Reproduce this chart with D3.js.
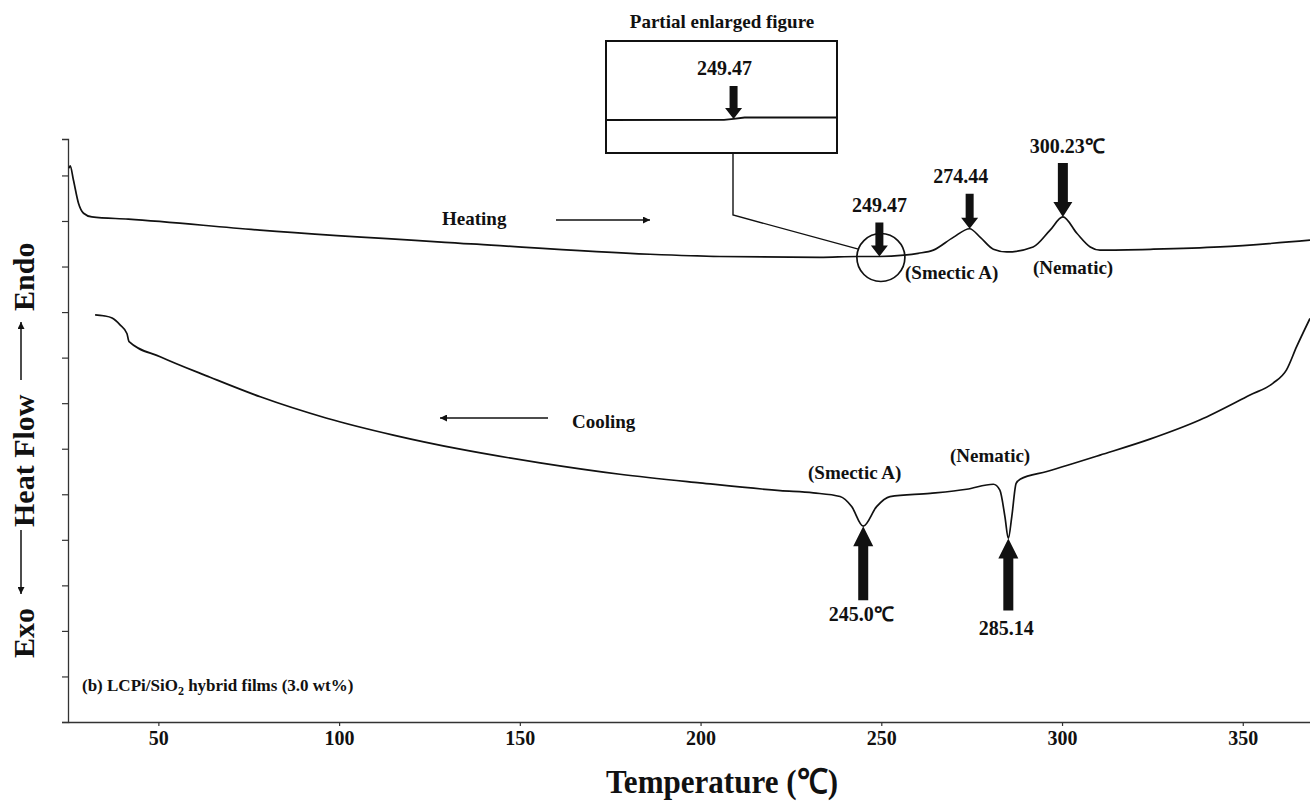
<!DOCTYPE html>
<html>
<head>
<meta charset="utf-8">
<script src="https://cdn.jsdelivr.net/npm/d3@7/dist/d3.min.js"></script>
<style>
  html, body { margin: 0; padding: 0; background: #fff; }
  svg { display: block; }
  text { font-family: "Liberation Serif", "Times New Roman", serif; font-weight: bold; fill: #111; }
</style>
</head>
<body>
<svg id="chart" width="1310" height="803"></svg>
<script>
// DSC traces of LCPi/SiO2 hybrid film (3.0 wt%), heat flow in arbitrary units
const heatingT = [25.3, 25.6, 26.5, 27.9, 29.3, 31.6, 41.7, 78.1, 138.1, 186.0, 205.3, 233.0, 243.2, 249.47, 256.3, 260.2, 264.4, 269.9, 274.44, 277.4, 281.0, 284.7, 292.0, 296.7, 300.23, 304.1, 307.8, 310.5, 325.3, 343.7, 368.6];
const heatingV = [12.16, 12.21, 11.90, 11.39, 11.17, 11.09, 11.04, 10.80, 10.49, 10.27, 10.22, 10.20, 10.22, 10.22, 10.25, 10.29, 10.36, 10.64, 10.83, 10.64, 10.38, 10.32, 10.43, 10.80, 11.09, 10.73, 10.43, 10.36, 10.38, 10.43, 10.58];

const coolingT = [32.5, 34.8, 37.2, 39.4, 41.3, 41.9, 50.5, 64.3, 78.2, 96.6, 115.0, 133.5, 155.6, 177.7, 199.8, 222.0, 231.2, 238.6, 241.8, 245.0, 248.7, 252.4, 263.5, 273.6, 281.0, 282.8, 284.2, 285.14, 286.1, 287.3, 288.4, 295.8, 310.5, 324.3, 338.1, 352.0, 358.4, 362.1, 364.9, 368.6];
const coolingV = [8.94, 8.92, 8.87, 8.72, 8.53, 8.35, 8.02, 7.57, 7.14, 6.67, 6.30, 5.99, 5.69, 5.44, 5.25, 5.08, 5.03, 4.95, 4.73, 4.30, 4.73, 4.95, 5.02, 5.11, 5.22, 5.09, 4.51, 4.03, 4.51, 5.24, 5.33, 5.50, 5.86, 6.21, 6.63, 7.18, 7.44, 7.73, 8.24, 8.86];

// enlarged detail around the 249.47 step (relative heat flow)
const insetT = [244.5, 249.1, 249.47, 249.9, 253.5];
const insetV = [0.00, 0.05, 0.45, 1.00, 1.00];

const xTicks = [50, 100, 150, 200, 250, 300, 350];
const yTicks = d3.range(0, 13);

const heatingPeaks = [
  { T: 249.47, label: "249.47" },
  { T: 274.44, label: "274.44" },
  { T: 300.23, label: "300.23℃" }
];
const coolingPeaks = [
  { T: 245.0, label: "245.0℃" },
  { T: 285.14, label: "285.14" }
];

const svg = d3.select("#chart");
const x = d3.scaleLinear().domain([25, 368.6]).range([68, 1310]);
const y = d3.scaleLinear().domain([0, 12.8]).range([722, 139]);
const ink = "#111";

// axes
const xAxis = svg.append("g").attr("transform", "translate(0,722)")
  .call(d3.axisBottom(x).tickValues(xTicks).tickSize(4).tickSizeOuter(0).tickFormat(d3.format("d")));
xAxis.select(".domain").attr("stroke", "#333").attr("stroke-width", 1.3);
xAxis.selectAll(".tick line").attr("stroke", "#333").attr("stroke-width", 1.2);
xAxis.selectAll(".tick text").attr("y", 23).attr("dy", 0)
  .style("font-size", "20px").style("font-family", "'Liberation Serif', serif").style("font-weight", "bold").attr("fill", ink);

const yAxis = svg.append("g").attr("transform", "translate(68,0)")
  .call(d3.axisLeft(y).tickValues(yTicks).tickSize(6).tickSizeOuter(6).tickFormat(""));
yAxis.select(".domain").attr("stroke", "#333").attr("stroke-width", 1.3);
yAxis.selectAll(".tick line").attr("stroke", "#333").attr("stroke-width", 1.2);

// traces
const line = d3.line().x(d => x(d[0])).y(d => y(d[1])).curve(d3.curveMonotoneX);
const heating = heatingT.map((t, i) => [t, heatingV[i]]);
const cooling = coolingT.map((t, i) => [t, coolingV[i]]);
svg.append("path").datum(heating).attr("d", line)
  .attr("fill", "none").attr("stroke", ink).attr("stroke-width", 1.7);
svg.append("path").datum(cooling).attr("d", line)
  .attr("fill", "none").attr("stroke", ink).attr("stroke-width", 1.7);

// block arrow: tip at (cx, tipY); dir = +1 points down, -1 points up
function blockArrow(cx, tipY, len, dir, shaftW, headW, headH) {
  const b = tipY - dir * len, h = tipY - dir * headH;
  const p = [
    [cx - shaftW / 2, b], [cx + shaftW / 2, b], [cx + shaftW / 2, h], [cx + headW / 2, h],
    [cx, tipY], [cx - headW / 2, h], [cx - shaftW / 2, h]
  ];
  return "M" + p.map(q => q.join(",")).join("L") + "Z";
}
const valueAt = (arr, t) => arr.find(d => d[0] === t)[1];

// heating transitions
const hGeom = [
  { len: 34, sw: 8, hw: 17, hh: 11, lx: 0, ly: -45, anchor: "middle" },
  { len: 35, sw: 8, hw: 17, hh: 11, lx: -9, ly: -46, anchor: "middle" },
  { len: 54, sw: 10, hw: 19, hh: 15, lx: -33, ly: -63.5, anchor: "start" }
];
heatingPeaks.forEach((p, i) => {
  const g = hGeom[i];
  const cx = x(p.T), ty = y(valueAt(heating, p.T));
  svg.append("path").attr("d", blockArrow(cx, ty, g.len, 1, g.sw, g.hw, g.hh)).attr("fill", ink);
  svg.append("text").attr("x", cx + g.lx).attr("y", ty + g.ly).attr("text-anchor", g.anchor)
    .style("font-size", "20px").text(p.label);
});

// cooling transitions
const cGeom = [
  { len: 74, lx: -2, ly: 95 },
  { len: 72, lx: -2, ly: 97 }
];
coolingPeaks.forEach((p, i) => {
  const g = cGeom[i];
  const cx = x(p.T), ty = y(valueAt(cooling, p.T));
  svg.append("path").attr("d", blockArrow(cx, ty, g.len, -1, 10, 20, 20)).attr("fill", ink);
  svg.append("text").attr("x", cx + g.lx).attr("y", ty + g.ly).attr("text-anchor", "middle")
    .style("font-size", "20px").text(p.label);
});

// phase labels
const phaseLabels = [
  { x: 905, y: 279, t: "(Smectic A)" },
  { x: 1033, y: 274, t: "(Nematic)" },
  { x: 808, y: 479, t: "(Smectic A)" },
  { x: 950, y: 462, t: "(Nematic)" }
];
phaseLabels.forEach(d => {
  svg.append("text").attr("x", d.x).attr("y", d.y).style("font-size", "19px").text(d.t);
});

// scan direction notes
svg.append("text").attr("x", 442).attr("y", 225).style("font-size", "19px").text("Heating");
svg.append("text").attr("x", 572).attr("y", 428).style("font-size", "19px").text("Cooling");
const defs = svg.append("defs");
defs.append("marker").attr("id", "thinHead").attr("viewBox", "0 0 10 10")
  .attr("refX", 10).attr("refY", 5).attr("markerWidth", 11).attr("markerHeight", 7)
  .attr("markerUnits", "userSpaceOnUse").attr("orient", "auto")
  .append("path").attr("d", "M0,0L10,5L0,10Z").attr("fill", ink);
svg.append("line").attr("x1", 556).attr("y1", 220).attr("x2", 650).attr("y2", 220)
  .attr("stroke", ink).attr("stroke-width", 1.3).attr("marker-end", "url(#thinHead)");
svg.append("line").attr("x1", 548).attr("y1", 418).attr("x2", 440).attr("y2", 418)
  .attr("stroke", ink).attr("stroke-width", 1.3).attr("marker-end", "url(#thinHead)");

// magnifier circle and connector to the enlarged view
const cx0 = x(249.47) + 1.5, cy0 = y(valueAt(heating, 249.47)) + 1;
svg.append("circle").attr("cx", cx0).attr("cy", cy0).attr("r", 24)
  .attr("fill", "none").attr("stroke", ink).attr("stroke-width", 1.7);
svg.append("path").attr("d", `M733,153 L733,215 L${cx0 - 22.5},${cy0 - 8.4}`)
  .attr("fill", "none").attr("stroke", ink).attr("stroke-width", 1.4);

// enlarged view
const box = { x0: 606, y0: 41, x1: 837, y1: 153 };
svg.append("rect").attr("x", box.x0).attr("y", box.y0).attr("width", box.x1 - box.x0).attr("height", box.y1 - box.y0)
  .attr("fill", "#fff").attr("stroke", ink).attr("stroke-width", 2);
const ix = d3.scaleLinear().domain([244.5, 253.5]).range([box.x0, box.x1]);
const iy = d3.scaleLinear().domain([0, 1]).range([120, 117.5]);
svg.append("path").datum(insetT.map((t, i) => [t, insetV[i]]))
  .attr("d", d3.line().x(d => ix(d[0])).y(d => iy(d[1])))
  .attr("fill", "none").attr("stroke", ink).attr("stroke-width", 1.8);
svg.append("path").attr("d", blockArrow(ix(249.47), iy(insetV[2]), 33, 1, 8, 17, 11)).attr("fill", ink);
svg.append("text").attr("x", ix(249.47) - 9).attr("y", 75).attr("text-anchor", "middle")
  .style("font-size", "20px").text("249.47");
svg.append("text").attr("x", 722).attr("y", 28).attr("text-anchor", "middle")
  .style("font-size", "19px").text("Partial enlarged figure");

// sample note
const note = svg.append("text").attr("x", 82).attr("y", 691).style("font-size", "17px");
note.append("tspan").text("(b) LCPi/SiO");
note.append("tspan").attr("dy", 4).style("font-size", "12px").text("2");
note.append("tspan").attr("dy", -4).text(" hybrid films (3.0 wt%)");

// axis titles
svg.append("text").attr("x", 722).attr("y", 793).attr("text-anchor", "middle")
  .attr("textLength", 232).attr("lengthAdjust", "spacingAndGlyphs")
  .style("font-size", "34px").text("Temperature (℃)");

const yt = svg.append("g").attr("transform", "translate(34,0) rotate(-90)");
yt.append("text").attr("x", -658).attr("y", 0).style("font-size", "30px").text("Exo");
yt.append("text").attr("x", -527).attr("y", 0).style("font-size", "30px").text("Heat Flow");
yt.append("text").attr("x", -311).attr("y", 0).style("font-size", "30px").text("Endo");
yt.append("line").attr("x1", -530).attr("y1", -13).attr("x2", -594).attr("y2", -13)
  .attr("stroke", ink).attr("stroke-width", 1.5).attr("marker-end", "url(#thinHead)");
yt.append("line").attr("x1", -380).attr("y1", -13).attr("x2", -322).attr("y2", -13)
  .attr("stroke", ink).attr("stroke-width", 1.5).attr("marker-end", "url(#thinHead)");
</script>
</body>
</html>
